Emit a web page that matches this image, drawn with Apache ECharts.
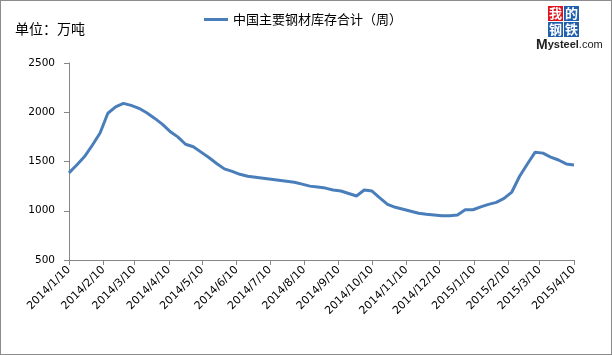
<!DOCTYPE html>
<html>
<head>
    <meta charset="UTF-8">
    <title>中国主要钢材库存合计（周）</title>
    <script type="text/javascript" src="https://cdn.jsdelivr.net/npm/echarts@6/dist/echarts.min.js"></script>
    <style>
        html, body { margin: 0; padding: 0; background: #fff; }
        #main { width: 612px; height: 355px; box-sizing: border-box; border: 1px solid #8c8c8c; }
    </style>
</head>
<body>
<div id="main"></div>
<script type="text/javascript">
    // 周度数据，起始 2014/1/10，每周一个点
    var startDay = '2014/1/10';
    var seriesName = '中国主要钢材库存合计（周）';
    var stock = [
        1385, 1465, 1550, 1665, 1790, 1990, 2055, 2090, 2070, 2040,
        1995, 1940, 1880, 1805, 1750, 1675, 1650, 1595, 1540, 1480,
        1425, 1400, 1370, 1350, 1340, 1330, 1320, 1310, 1300, 1290,
        1270, 1250, 1240, 1230, 1210, 1200, 1175, 1150, 1210, 1200,
        1130, 1065, 1035, 1015, 995, 975, 965, 958, 950, 950,
        958, 1010, 1010, 1040, 1065, 1085, 1125, 1190, 1350, 1475,
        1595, 1585, 1545, 1515, 1475, 1465
    ];
    var tickLabels = [
        '2014/1/10', '2014/2/10', '2014/3/10', '2014/4/10', '2014/5/10',
        '2014/6/10', '2014/7/10', '2014/8/10', '2014/9/10', '2014/10/10',
        '2014/11/10', '2014/12/10', '2015/1/10', '2015/2/10', '2015/3/10',
        '2015/4/10'
    ];

    var DAY = 24 * 3600 * 1000;
    function toDay(s) {
        var p = s.split('/');
        return Date.UTC(+p[0], +p[1] - 1, +p[2]) / DAY;
    }
    var d0 = toDay(startDay);
    // x 轴用“距起始日的天数”
    var ticks = tickLabels.map(function (s) { return toDay(s) - d0; });
    var data = stock.map(function (v, i) { return [i * 7, v]; });

    var cjk = '"Noto Sans CJK SC"';
    var myChart = echarts.init(document.getElementById('main'));
    var option = {
        backgroundColor: '#ffffff',
        animation: false,
        textStyle: { fontFamily: '"DejaVu Sans", "Noto Sans CJK SC", sans-serif' },
        title: {
            text: '单位：万吨',
            left: 9,
            top: 16,
            textStyle: { fontSize: 14, fontWeight: 'normal', color: '#000', fontFamily: cjk }
        },
        legend: {
            top: 7,
            left: 198,
            itemWidth: 24,
            itemHeight: 3,
            itemGap: 4,
            textStyle: { fontSize: 13, color: '#000', fontFamily: cjk },
            data: [{ name: seriesName, icon: 'rect' }]
        },
        graphic: [
            { type: 'rect', shape: { x: 547, y: 5, width: 15, height: 15 }, style: { fill: '#e0141e' } },
            { type: 'rect', shape: { x: 563, y: 5, width: 15, height: 15 }, style: { fill: '#1f5fae' } },
            { type: 'rect', shape: { x: 547, y: 21, width: 15, height: 15 }, style: { fill: '#1f5fae' } },
            { type: 'rect', shape: { x: 563, y: 21, width: 15, height: 15 }, style: { fill: '#1f5fae' } },
            { type: 'text', style: { x: 554.5, y: 12.5, text: '我', fill: '#fff', font: 'bold 13px "Noto Sans CJK SC"', align: 'center', verticalAlign: 'middle' } },
            { type: 'text', style: { x: 570.5, y: 12.5, text: '的', fill: '#fff', font: 'bold 13px "Noto Sans CJK SC"', align: 'center', verticalAlign: 'middle' } },
            { type: 'text', style: { x: 554.5, y: 28.5, text: '钢', fill: '#fff', font: 'bold 13px "Noto Sans CJK SC"', align: 'center', verticalAlign: 'middle' } },
            { type: 'text', style: { x: 570.5, y: 28.5, text: '铁', fill: '#fff', font: 'bold 13px "Noto Sans CJK SC"', align: 'center', verticalAlign: 'middle' } },
            {
                type: 'text',
                style: {
                    x: 535, y: 37,
                    text: '{m|M}{s|ysteel}{c|.com}',
                    rich: {
                        m: { fontSize: 14, fontWeight: 'bold', fill: '#222', fontFamily: '"Liberation Sans"' },
                        s: { fontSize: 11, fontWeight: 'bold', fill: '#222', fontFamily: '"Liberation Sans"' },
                        c: { fontSize: 11, fill: '#222', fontFamily: '"Liberation Sans"' }
                    }
                }
            }
        ],
        grid: {
            left: 68,
            right: 37,
            top: 62,
            bottom: 94,
            containLabel: false
        },
        xAxis: {
            type: 'value',
            min: ticks[0],
            max: ticks[ticks.length - 1],
            splitLine: { show: false },
            axisLine: { lineStyle: { color: '#868686', width: 1 } },
            axisTick: { show: true, length: 5, lineStyle: { color: '#868686' }, customValues: ticks },
            axisLabel: {
                customValues: ticks,
                rotate: 45,
                fontSize: 11,
                color: '#000',
                margin: 8,
                formatter: function (v) {
                    var d = new Date((d0 + v) * DAY);
                    return d.getUTCFullYear() + '/' + (d.getUTCMonth() + 1) + '/' + d.getUTCDate();
                }
            }
        },
        yAxis: {
            type: 'value',
            min: 500,
            max: 2500,
            interval: 500,
            splitLine: { show: false },
            axisLine: { show: true, lineStyle: { color: '#868686', width: 1 } },
            axisTick: { show: true, length: 5, lineStyle: { color: '#868686' } },
            axisLabel: {
                fontSize: 10.5,
                color: '#000',
                margin: 14,
                formatter: function (v) { return String(v); }
            }
        },
        series: [{
            name: seriesName,
            type: 'line',
            symbol: 'none',
            lineStyle: { color: '#4a7ebb', width: 3 },
            itemStyle: { color: '#4a7ebb' },
            data: data
        }]
    };
    myChart.setOption(option);
</script>
</body>
</html>
